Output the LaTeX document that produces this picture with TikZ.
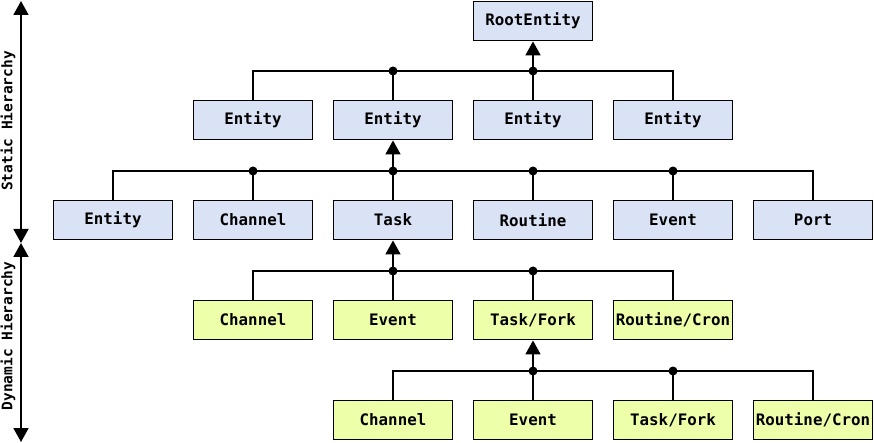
\documentclass[tikz,border=0pt]{standalone}
\usepackage{fontspec}
\setmonofont{DejaVu Sans Mono}
\usetikzlibrary{arrows.meta}
\definecolor{statblue}{RGB}{218,227,245}
\definecolor{dyngreen}{RGB}{238,255,170}
\tikzset{
  cls/.style={draw, line width=1.9pt, minimum width=119pt, minimum height=39pt, inner sep=0pt,
    font=\ttfamily\bfseries\fontsize{15.8}{17}\selectfont},
  sbox/.style={cls, fill=statblue},
  dbox/.style={cls, fill=dyngreen},
  link/.style={line width=1.8pt},
  isa/.style={link, -{Triangle[width=15pt,length=14pt]}},
  axis/.style={line width=1.8pt, {Triangle[width=15pt,length=14pt]}-{Triangle[width=15pt,length=14pt]}},
  axlabel/.style={rotate=90, font=\ttfamily\bfseries\fontsize{14.5}{16}\selectfont}
}
\begin{document}
\begin{tikzpicture}[x=1pt,y=-1pt]
\useasboundingbox (0,0) rectangle (874,443);
% hierarchy axis
\coordinate (top) at (21,1);
\coordinate (mid) at (21,243);
\coordinate (bot) at (21,442);
\draw[axis] (top) -- (mid);
\draw[axis] (mid) -- (bot);
\node[axlabel] (static) at (8,121) {Static Hierarchy};
\node[axlabel] (dynamic) at (8,336) {Dynamic Hierarchy};
% boxes
\node[sbox] (root) at (533,21) {RootEntity};
\foreach \i/\x in {1/253, 2/393, 3/533, 4/673}{
  \node[sbox] (e\i) at (\x,120) {Entity};
}
\foreach \i/\x/\txt in {1/113/Entity, 2/253/Channel, 3/393/Task, 4/533/Routine, 5/673/Event, 6/813/Port}{
  \node[sbox] (s\i) at (\x,220) {\txt};
}
\foreach \i/\x/\txt in {1/253/Channel, 2/393/Event, 3/533/{Task/Fork}, 4/673/{Routine/Cron}}{
  \node[dbox] (d\i) at (\x,320) {\txt};
}
\foreach \i/\x/\txt in {1/393/Channel, 2/533/Event, 3/673/{Task/Fork}, 4/813/{Routine/Cron}}{
  \node[dbox] (f\i) at (\x,420) {\txt};
}
% joints
\coordinate (ja) at (393,71);
\coordinate (jb) at (533,71);
\coordinate (jc) at (253,171);
\coordinate (jd) at (393,171);
\coordinate (je) at (533,171);
\coordinate (jf) at (673,171);
\coordinate (jg) at (393,271);
\coordinate (jh) at (533,271);
\coordinate (ji) at (533,371);
\coordinate (jj) at (673,371);
% level 1
\draw[link] (e1.north) |- (ja) -- (jb) -| (e4.north);
\draw[link] (e2.north) -- (ja);
\draw[isa] (e3.north) -- (root.south);
% level 2
\draw[link] (s1.north) |- (jc) -- (jf) -| (s6.north);
\draw[link] (s2.north) -- (jc);
\draw[link] (s4.north) -- (je);
\draw[link] (s5.north) -- (jf);
\draw[isa] (s3.north) -- (e2.south);
% level 3
\draw[link] (d1.north) |- (jg) -- (jh) -| (d4.north);
\draw[link] (d3.north) -- (jh);
\draw[isa] (d2.north) -- (s3.south);
% level 4
\draw[link] (f1.north) |- (ji) -- (jj) -| (f4.north);
\draw[link] (f3.north) -- (jj);
\draw[isa] (f2.north) -- (d3.south);
\foreach \j in {ja,jb,jc,jd,je,jf,jg,jh,ji,jj}{
  \fill (\j) circle (4.5pt);
}
\end{tikzpicture}
\end{document}
